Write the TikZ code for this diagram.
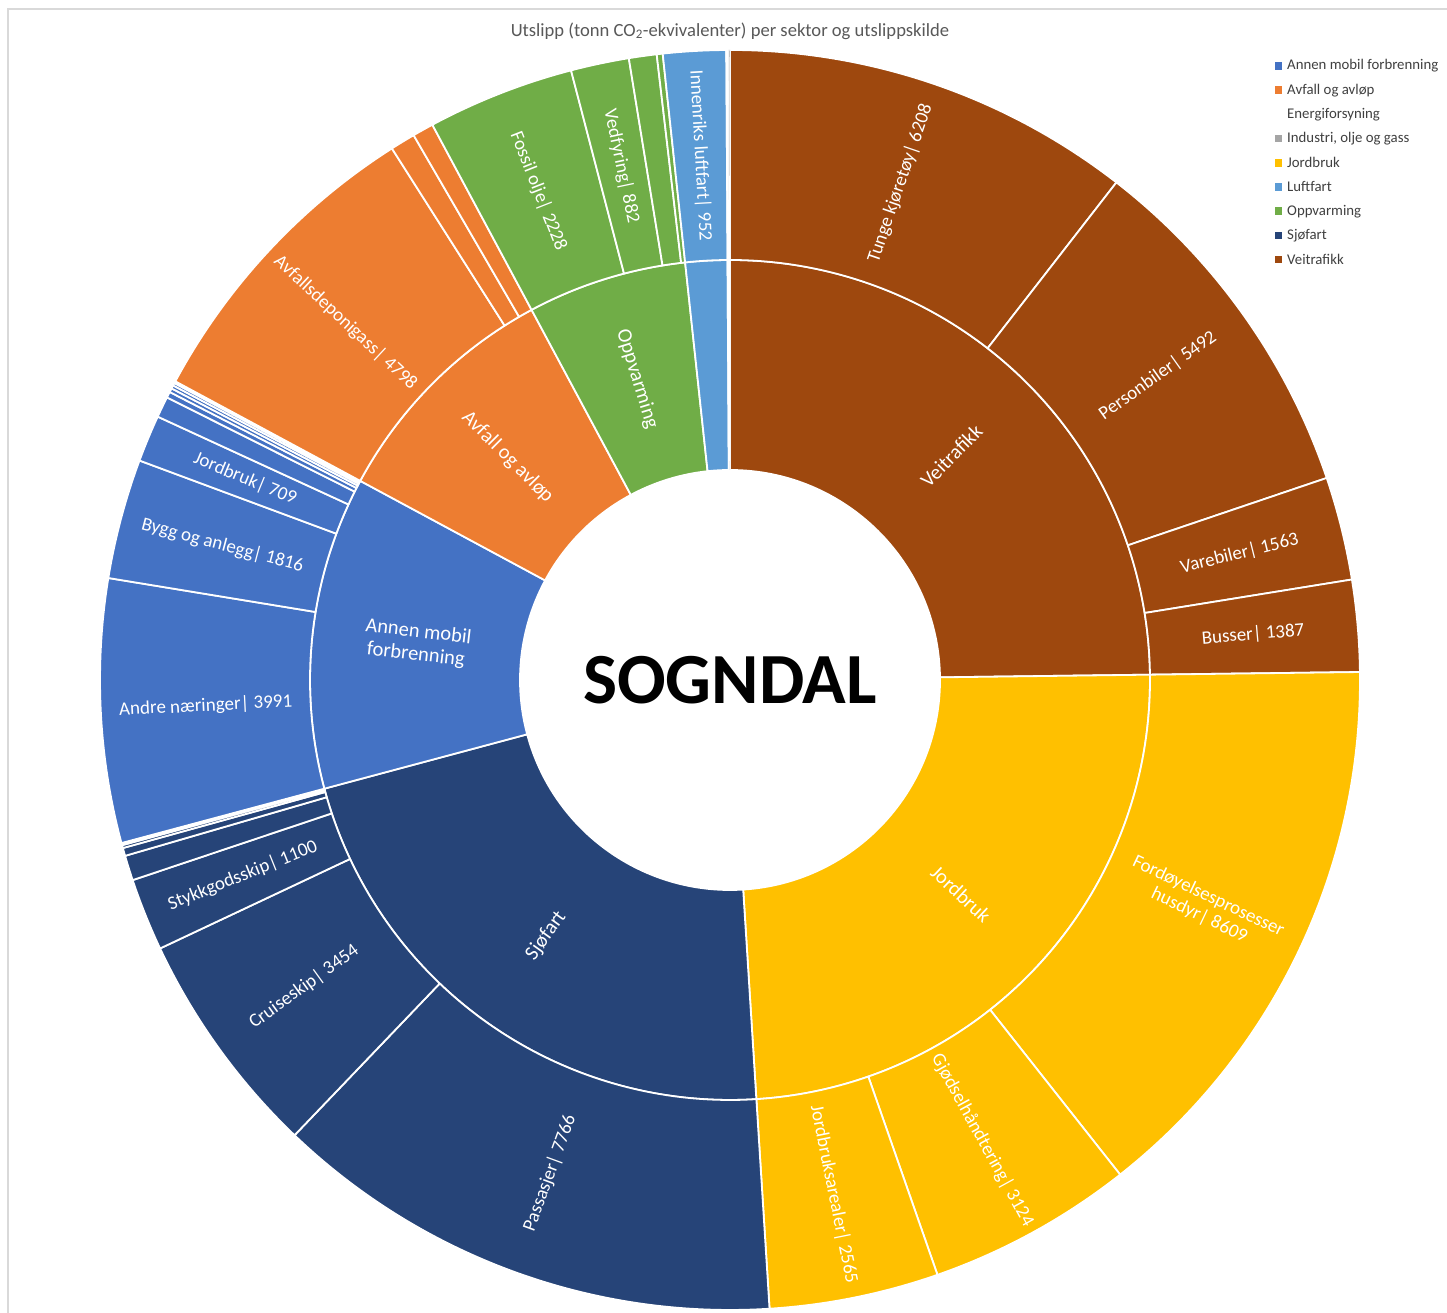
\documentclass[tikz,border=0pt]{standalone}
\usepackage{fontspec}
\setmainfont{Carlito}
\definecolor{cAnnen}{HTML}{4472C4}
\definecolor{cAvfall}{HTML}{ED7D31}
\definecolor{cIndustri}{HTML}{A5A5A5}
\definecolor{cJord}{HTML}{FFC000}
\definecolor{cLuft}{HTML}{5B9BD5}
\definecolor{cOppv}{HTML}{70AD47}
\definecolor{cSjo}{HTML}{264478}
\definecolor{cVei}{HTML}{9E480E}
\definecolor{cText}{HTML}{595959}
\definecolor{cFrame}{HTML}{D9D9D9}
\newcounter{segc}
\def\tot{5907.7}
\def\cumI{0}
\def\cumO{0}
% #1 cumulative macro, #2 value, #3 inner radius, #4 outer radius, #5 colour (+options), #6 label
\newcommand\seg[6]{%
  \stepcounter{segc}%
  \pgfmathsetmacro\aS{90-#1/\tot*360}%
  \pgfmathsetmacro\nc{#1+#2}%
  \pgfmathsetmacro\aE{90-\nc/\tot*360}%
  \pgfmathsetmacro\aM{(\aS+\aE)/2}%
  \pgfmathsetmacro\rM{(#3+#4)/2}%
  \pgfmathsetmacro\rot{(\aM<-90) ? (\aM+180) : (\aM)}%
  \fill[sector, fill=#5] (\aS:#3pt) arc[start angle=\aS, end angle=\aE, radius=#3pt]
      -- (\aE:#4pt) arc[start angle=\aE, end angle=\aS, radius=#4pt] -- cycle;
  \if\relax\detokenize{#6}\relax\else
    \node[lbl, rotate=\rot] (lab\arabic{segc}) at (\aM:\rM pt) {#6};
  \fi
  \xdef#1{\nc}%
}
\begin{document}
\begin{tikzpicture}[x=1pt, y=1pt,
  sector/.style={draw=white, line width=1.8pt, line join=round},
  lbl/.style={text=white, font=\fontsize{19}{21}\selectfont, align=center, inner sep=1pt},
  ilbl/.style={font=\fontsize{20.5}{23}\selectfont},
  legsq/.style={minimum size=7.5pt, inner sep=0pt},
  legtxt/.style={anchor=west, text=black!75, font=\fontsize{14.8}{16}\selectfont, inner sep=0pt}]
\useasboundingbox (0,0) rectangle (1447,1313);
\fill[white] (0,0) rectangle (1447,1313);
% frame (top and left edges visible)
\draw[cFrame, line width=1.5pt] (8,0) -- (8,1304) -- (1447,1304);
% title
\node[text=cText, font=\fontsize{18.6}{20}\selectfont] (title) at (730,1282) {Utslipp (tonn CO\textsubscript{2}-ekvivalenter) per sektor og utslippskilde};
\begin{scope}[shift={(730,633)}]
  % inner ring: sectors
  \begin{scope}[lbl/.append style={ilbl}]
  \seg{\cumI}{1465.0}{210}{420}{cVei}{Veitrafikk}
  \seg{\cumI}{1429.8}{210}{420}{cJord}{Jordbruk}
  \seg{\cumI}{1289.8}{210}{420}{cSjo}{Sjøfart}
  \seg{\cumI}{710.6}{210}{420}{cAnnen}{Annen mobil\\forbrenning}
  \seg{\cumI}{549.8}{210}{420}{cAvfall}{Avfall og avløp}
  \seg{\cumI}{362.0}{210}{420}{cOppv}{Oppvarming}
  \seg{\cumI}{95.2}{210}{420}{cLuft}{}
  \seg{\cumI}{3.5}{210}{420}{white}{}
  \seg{\cumI}{2.0}{210}{420}{cIndustri, line width=0.6pt}{}
  \end{scope}
  % outer ring: sources
  \seg{\cumO}{620.8}{420}{630}{cVei}{Tunge kjøretøy| 6208}
  \seg{\cumO}{549.2}{420}{630}{cVei}{Personbiler| 5492}
  \seg{\cumO}{156.3}{420}{630}{cVei}{Varebiler| 1563}
  \seg{\cumO}{138.7}{420}{630}{cVei}{Busser| 1387}
  \seg{\cumO}{860.9}{420}{630}{cJord}{Fordøyelsesprosesser\\husdyr| 8609}
  \seg{\cumO}{312.4}{420}{630}{cJord}{Gjødselhåndtering| 3124}
  \seg{\cumO}{256.5}{420}{630}{cJord}{Jordbruksarealer| 2565}
  \seg{\cumO}{776.6}{420}{630}{cSjo}{Passasjer| 7766}
  \seg{\cumO}{345.4}{420}{630}{cSjo}{Cruiseskip| 3454}
  \seg{\cumO}{110.0}{420}{630}{cSjo}{Stykkgodsskip| 1100}
  \seg{\cumO}{38.0}{420}{630}{cSjo}{}
  \seg{\cumO}{12.0}{420}{630}{cSjo}{}
  \seg{\cumO}{4.5}{420}{630}{cSjo}{}
  \seg{\cumO}{2.0}{420}{630}{cSjo}{}
  \seg{\cumO}{1.3}{420}{630}{cSjo}{}
  \seg{\cumO}{399.1}{420}{630}{cAnnen}{Andre næringer| 3991}
  \seg{\cumO}{181.6}{420}{630}{cAnnen}{Bygg og anlegg| 1816}
  \seg{\cumO}{70.9}{420}{630}{cAnnen}{Jordbruk| 709}
  \seg{\cumO}{32.0}{420}{630}{cAnnen}{}
  \seg{\cumO}{9.0}{420}{630}{cAnnen}{}
  \seg{\cumO}{6.0}{420}{630}{cAnnen}{}
  \seg{\cumO}{5.0}{420}{630}{cAnnen}{}
  \seg{\cumO}{4.0}{420}{630}{cAnnen}{}
  \seg{\cumO}{3.0}{420}{630}{cAnnen}{}
  \seg{\cumO}{479.8}{420}{630}{cAvfall}{Avfallsdeponigass| 4798}
  \seg{\cumO}{38.0}{420}{630}{cAvfall}{}
  \seg{\cumO}{32.0}{420}{630}{cAvfall}{}
  \seg{\cumO}{222.8}{420}{630}{cOppv}{Fossil olje| 2228}
  \seg{\cumO}{88.2}{420}{630}{cOppv}{Vedfyring| 882}
  \seg{\cumO}{42.0}{420}{630}{cOppv}{}
  \seg{\cumO}{9.0}{420}{630}{cOppv}{}
  \seg{\cumO}{95.2}{420}{630}{cLuft}{Innenriks luftfart| 952}
  \seg{\cumO}{3.5}{420}{630}{white}{}
  \seg{\cumO}{2.0}{420}{630}{cIndustri, line width=0.6pt}{}
  % centre
  \node[font=\bfseries\fontsize{72}{80}\selectfont, text=black] (centre) at (0,0) {SOGNDAL};
\end{scope}
% legend
\foreach \c/\t [count=\i from 0] in {cAnnen/Annen mobil forbrenning, cAvfall/Avfall og avløp, white/Energiforsyning, cIndustri/{Industri, olje og gass}, cJord/Jordbruk, cLuft/Luftfart, cOppv/Oppvarming, cSjo/Sjøfart, cVei/Veitrafikk}{
  \node[legsq, fill=\c] (lsq\i) at (1278.5, 1313-66-24.2*\i) {};
  \node[legtxt] (ltx\i) at (1287, 1313-66-24.2*\i) {\t};
}
\end{tikzpicture}
\end{document}
